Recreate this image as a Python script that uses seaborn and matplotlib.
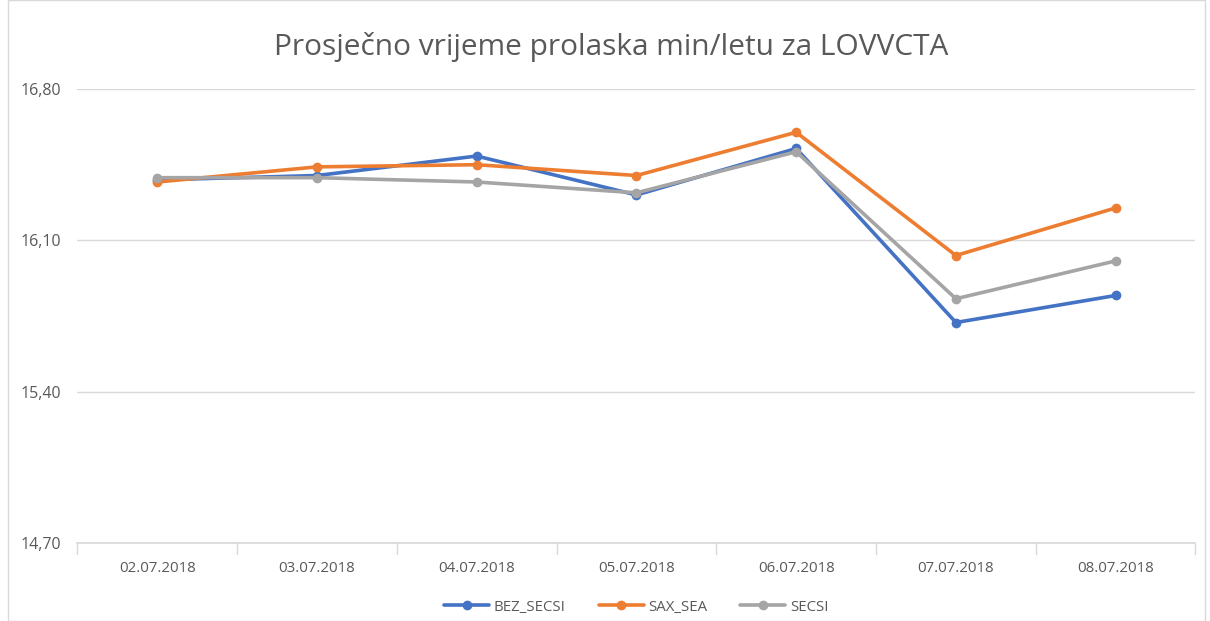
import matplotlib
matplotlib.use("Agg")
import matplotlib.pyplot as plt
import seaborn as sns
import pandas as pd
from matplotlib.patches import Rectangle

dates = ["02.07.2018", "03.07.2018", "04.07.2018", "05.07.2018",
         "06.07.2018", "07.07.2018", "08.07.2018"]
bez_secsi = [16.38, 16.40, 16.49, 16.31, 16.525, 15.72, 15.845]
sax_sea = [16.37, 16.44, 16.45, 16.40, 16.60, 16.03, 16.25]
secsi = [16.39, 16.39, 16.37, 16.32, 16.51, 15.83, 16.005]
series_names = ["BEZ_SECSI", "SAX_SEA", "SECSI"]
yticks = [14.70, 15.40, 16.10, 16.80]
title = "Prosječno vrijeme prolaska min/letu za LOVVCTA"

colors = ["#4472C4", "#ED7D31", "#A5A5A5"]

rows = []
for name, vals in zip(series_names, [bez_secsi, sax_sea, secsi]):
    for i, (d, v) in enumerate(zip(dates, vals)):
        rows.append({"idx": i, "date": d, "value": v, "series": name})
df = pd.DataFrame(rows)

sns.set_theme(style="white")
plt.rcParams['font.family'] = ['Open Sans', 'DejaVu Sans']

fig = plt.figure(figsize=(12.1, 6.21), dpi=100)
ax = fig.add_axes([0.064, 0.1256, 0.924, 0.731])

sns.lineplot(data=df, x="idx", y="value", hue="series", palette=colors,
             marker="o", markersize=7, markeredgewidth=0, linewidth=2.6,
             ax=ax, legend=True)

ax.set_xlim(-0.5, len(dates) - 0.5)
ax.set_ylim(yticks[0], yticks[-1])
ax.set_yticks(yticks)
ax.set_yticklabels([f"{t:.2f}".replace(".", ",") for t in yticks],
                   color="#595959", fontsize=11.5)
ax.set_xticks(range(len(dates)))
ax.set_xticklabels(dates, color="#595959", fontsize=10.8)
ax.tick_params(axis="x", length=0, pad=13)
ax.tick_params(axis="y", length=0, pad=12)
# boundary tick marks
for b in range(len(dates) + 1):
    ax.plot([b - 0.5, b - 0.5], [yticks[0], yticks[0] - 0.05], color="#D9D9D9",
            lw=1, clip_on=False, zorder=1)
ax.grid(axis="y", color="#D9D9D9", lw=1)
ax.set_axisbelow(True)
for s in ["top", "right", "left"]:
    ax.spines[s].set_visible(False)
ax.spines["bottom"].set_color("#D9D9D9")
ax.set_xlabel("")
ax.set_ylabel("")

handles, labels = ax.get_legend_handles_labels()
ax.legend(handles, labels, loc="upper center", bbox_to_anchor=(0.5, -0.095),
          ncol=3, frameon=False, fontsize=10.8, handlelength=3.0,
          handletextpad=0.3, columnspacing=2.2, labelcolor="#595959")

fig.text(0.505, 0.925, title, ha="center", va="center", fontsize=21.5,
         color="#595959")

fig.patches.append(Rectangle((0.007, 0.0), 0.989, 1.0, transform=fig.transFigure,
                             fill=False, edgecolor="#D9D9D9", lw=1))

fig.savefig("out.png", dpi=100)
